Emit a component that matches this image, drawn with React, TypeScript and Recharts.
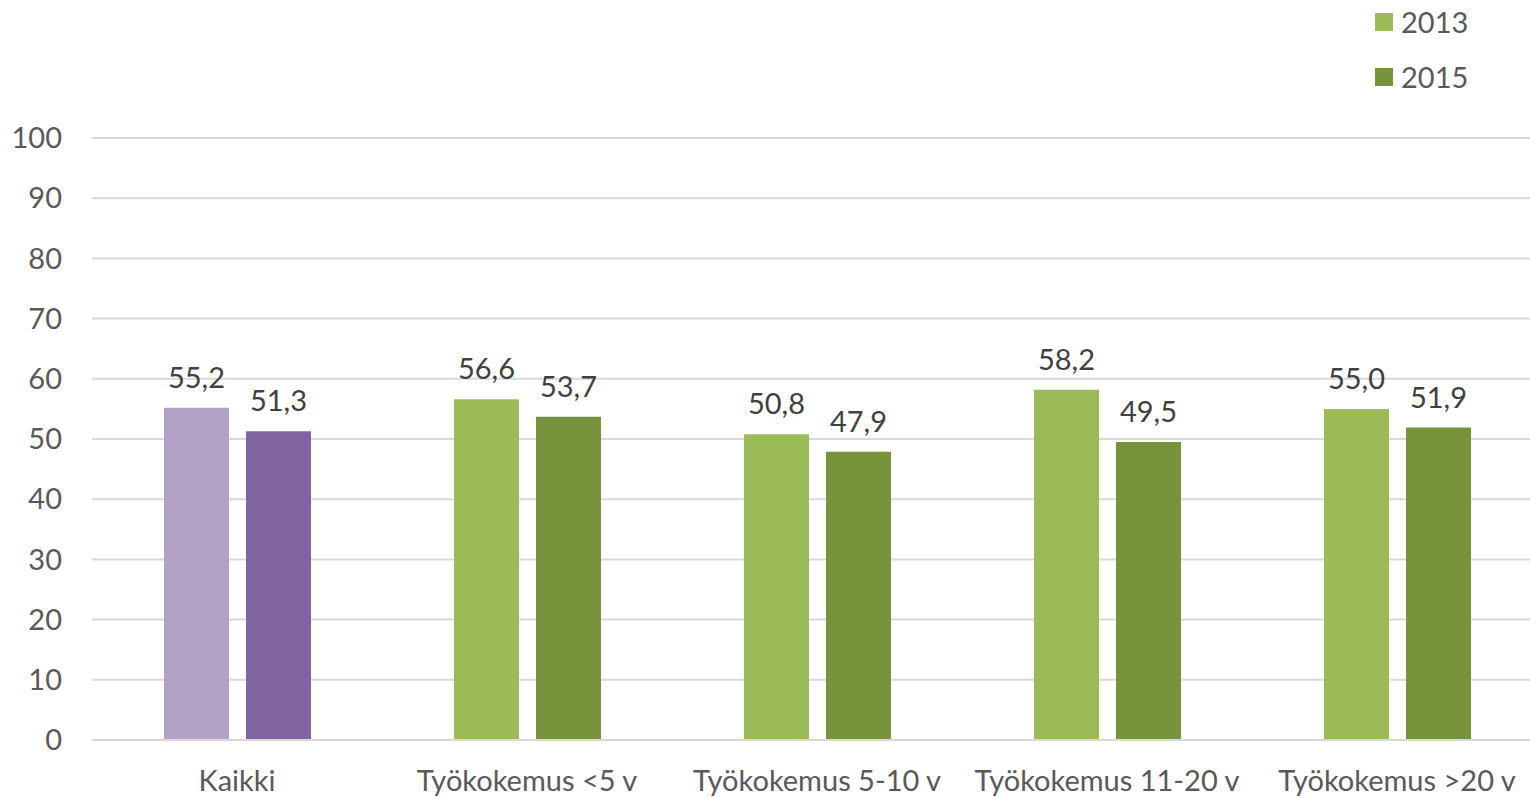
import React from 'react';
import { BarChart, Bar, XAxis, YAxis, CartesianGrid, LabelList, Cell } from 'recharts';

const categories = ['Kaikki', 'Työkokemus <5 v', 'Työkokemus 5-10 v', 'Työkokemus 11-20 v', 'Työkokemus >20 v'];
const values2013 = [55.2, 56.6, 50.8, 58.2, 55.0];
const values2015 = [51.3, 53.7, 47.9, 49.5, 51.9];
const yTicks = [0, 10, 20, 30, 40, 50, 60, 70, 80, 90, 100];
const seriesNames = ['2013', '2015'];

// first category ("Kaikki") is drawn in purple, the rest in green
const light = ['#B3A2C7', '#9BBB59', '#9BBB59', '#9BBB59', '#9BBB59'];
const dark = ['#8064A2', '#77933C', '#77933C', '#77933C', '#77933C'];
const legendColors = ['#9BBB59', '#77933C'];

const data = categories.map((name, i) => ({
  name,
  v2013: values2013[i],
  v2015: values2015[i],
}));

const FONT = 'Lato, "Noto Sans", sans-serif';
const FS = 29;
const fmt = (v: number) => v.toFixed(1).replace('.', ',');

const App: React.FC = () => {
  return (
    <div style={{ position: 'absolute', left: 0, top: 0, width: 1530, height: 798, overflow: 'hidden', background: '#fff', fontFamily: FONT }}>
      <BarChart
        width={1542}
        height={798}
        data={data}
        margin={{ top: 138, right: 0, bottom: 0, left: 0 }}
        barSize={65}
        barGap={17}
      >
        <CartesianGrid vertical={false} stroke="#D9D9D9" strokeWidth={2} />
        <XAxis
          dataKey="name"
          height={58}
          tickLine={false}
          tickSize={0}
          tickMargin={30}
          axisLine={{ stroke: '#D9D9D9', strokeWidth: 2 }}
          tick={{ fill: '#595959', fontSize: FS, fontFamily: FONT }}
          interval={0}
        />
        <YAxis
          domain={[0, 100]}
          ticks={yTicks}
          width={92}
          axisLine={false}
          tickLine={false}
          tickSize={0}
          tickMargin={30}
          tick={{ fill: '#595959', fontSize: FS, fontFamily: FONT }}
        />
        <Bar dataKey="v2013" isAnimationActive={false}>
          {data.map((_, i) => (
            <Cell key={`a-${i}`} fill={light[i]} />
          ))}
          <LabelList dataKey="v2013" position="top" offset={20} formatter={fmt} fill="#404040" fontSize={FS} fontFamily={FONT} />
        </Bar>
        <Bar dataKey="v2015" isAnimationActive={false}>
          {data.map((_, i) => (
            <Cell key={`b-${i}`} fill={dark[i]} />
          ))}
          <LabelList dataKey="v2015" position="top" offset={20} formatter={fmt} fill="#404040" fontSize={FS} fontFamily={FONT} />
        </Bar>
      </BarChart>
      {/* legend, top right */}
      <div style={{ position: 'absolute', left: 1375, top: 4 }}>
        {seriesNames.map((s, i) => (
          <div key={s} style={{ display: 'flex', alignItems: 'center', height: 36, marginBottom: i === 0 ? 19 : 0 }}>
            <div style={{ width: 18, height: 18, background: legendColors[i], marginRight: 8 }} />
            <span style={{ fontSize: FS, color: '#595959', lineHeight: '36px' }}>{s}</span>
          </div>
        ))}
      </div>
    </div>
  );
};

export default App;
